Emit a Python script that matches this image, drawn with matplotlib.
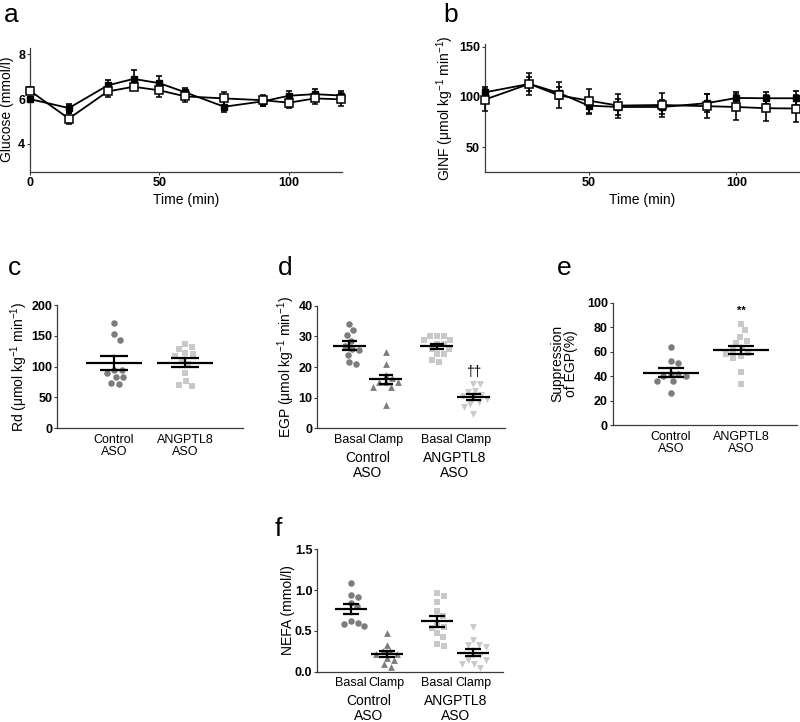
import numpy as np
import matplotlib
matplotlib.use('Agg')
import matplotlib.pyplot as plt
from matplotlib.transforms import blended_transform_factory

plt.rcParams['font.family'] = ['Liberation Sans', 'DejaVu Sans']
plt.rcParams['mathtext.fontset'] = 'custom'
plt.rcParams['mathtext.rm'] = 'Liberation Sans'
plt.rcParams['mathtext.it'] = 'Liberation Sans:italic'
plt.rcParams['mathtext.default'] = 'regular'

# ---------------- data ----------------
# panel a: plasma glucose during clamp
time_a = [0, 15, 30, 40, 50, 60, 75, 90, 100, 110, 120]
glucose_control = [6.0, 5.6, 6.61, 6.9, 6.71, 6.3, 5.66, 5.9, 6.15, 6.22, 6.16]
glucose_control_sem = [0.1, 0.2, 0.25, 0.4, 0.3, 0.2, 0.25, 0.2, 0.2, 0.25, 0.2]
glucose_angptl8 = [6.37, 5.13, 6.34, 6.55, 6.39, 6.12, 6.03, 5.95, 5.84, 6.03, 5.99]
glucose_angptl8_sem = [0.15, 0.25, 0.25, 0.15, 0.3, 0.25, 0.3, 0.25, 0.25, 0.25, 0.3]

# panel b: glucose infusion rate
time_b = [15, 30, 40, 50, 60, 75, 90, 100, 110, 120]
ginf_control = [104.6, 113, 104, 91.4, 90, 90, 93.8, 99, 98.7, 98.7]
ginf_control_sem = [5, 7, 6, 8, 8, 7, 9, 6, 6, 7]
ginf_angptl8 = [97.4, 113, 101.6, 96.4, 91.4, 92, 90.8, 90, 88.8, 88.5]
ginf_angptl8_sem = [11, 11, 13, 12, 12, 12, 12, 13, 13, 13]

# panel c: Rd
group_labels = ['Control\nASO', 'ANGPTL8\nASO']
rd_control = [170, 153, 144, 95, 95, 89, 83, 83, 72, 73]
rd_angptl8 = [137, 132, 129, 122, 120, 118, 111, 104, 89, 77, 71, 68]

# panel d: EGP
condition_labels = ['Basal', 'Clamp', 'Basal', 'Clamp']
egp_control_basal = [34, 32, 30.5, 28.5, 27, 26, 25.5, 24, 21.5, 21]
egp_control_clamp = [25, 21, 17.5, 16.5, 15, 15, 15, 13.5, 13.5, 7.5]
egp_angptl8_basal = [30.2, 30.2, 30.2, 28.8, 28.8, 27.5, 27.5, 25.9, 25.9, 24.2, 24.2, 22.4, 21.7]
egp_angptl8_clamp = [14.5, 14.5, 12.3, 12, 11, 10.5, 10, 9.5, 8.5, 8, 6.8, 4.7]

# panel e: suppression of EGP
supp_control = [64, 52, 51, 42, 42, 40, 40, 36, 36, 26]
supp_angptl8 = [82.5, 77.3, 72.3, 69, 67, 63, 61.4, 58.9, 58, 56.7, 54.5, 43, 33.7]

# panel f: NEFA
nefa_control_basal = [1.09, 0.94, 0.91, 0.84, 0.8, 0.62, 0.6, 0.58, 0.56]
nefa_control_clamp = [0.47, 0.33, 0.25, 0.25, 0.22, 0.22, 0.17, 0.14, 0.09, 0.06]
nefa_angptl8_basal = [0.97, 0.93, 0.85, 0.74, 0.68, 0.59, 0.55, 0.53, 0.47, 0.42, 0.34, 0.32]
nefa_angptl8_clamp = [0.55, 0.39, 0.33, 0.33, 0.3, 0.2, 0.2, 0.14, 0.14, 0.09, 0.09, 0.05]

# ---------------- style ----------------
DARK = '#7d7d7d'
LIGHT = '#c9c9c9'
SPINE = '#3a3a3a'
TICK_FS = 9
LABEL_FS = 10

fig = plt.figure(figsize=(8, 7.22), dpi=100)
W, H = 800.0, 722.0


def add_ax(left, right, top, bottom):
    return fig.add_axes([left / W, 1 - bottom / H, (right - left) / W, (bottom - top) / H])


def style(ax, fs=TICK_FS):
    for s in ['top', 'right']:
        ax.spines[s].set_visible(False)
    for s in ['left', 'bottom']:
        ax.spines[s].set_color(SPINE)
        ax.spines[s].set_linewidth(0.9)
    ax.tick_params(direction='out', length=2, width=0.8, color=SPINE, labelsize=fs, pad=1.5)
    for lab in ax.get_yticklabels():
        lab.set_fontweight('bold')


def swarm(ax, xc, vals, d_px):
    vals = np.asarray(vals, float)
    T = ax.transData
    xc_d = T.transform((xc, 0))[0]
    yd = T.transform(np.column_stack([np.full(len(vals), xc), vals]))[:, 1]
    cands = [0.0]
    for k in range(1, 200):
        cands += [k * 0.5, -k * 0.5]
    placed = []
    xd = np.zeros(len(vals))
    for i in np.argsort(-vals):
        for off in cands:
            if all((off - px) ** 2 + (yd[i] - py) ** 2 >= d_px ** 2 for px, py in placed):
                break
        placed.append((off, yd[i]))
        xd[i] = off
    return T.inverted().transform(np.column_stack([xc_d + xd, yd]))[:, 0]


def dots(ax, x, vals, marker, color, size, d_px, mean_hw, cap_hw):
    xs = swarm(ax, x, vals, d_px)
    ax.scatter(xs, vals, marker=marker, s=size, color=color, linewidths=0, zorder=2, clip_on=False)
    m = np.mean(vals)
    sem = np.std(vals, ddof=1) / np.sqrt(len(vals))
    ax.plot([x - mean_hw, x + mean_hw], [m, m], color='k', lw=1.6, zorder=3, solid_capstyle='butt')
    ax.plot([x, x], [m - sem, m + sem], color='k', lw=1.6, zorder=3)
    for yy in (m - sem, m + sem):
        ax.plot([x - cap_hw, x + cap_hw], [yy, yy], color='k', lw=1.6, zorder=3, solid_capstyle='butt')


def place_ylabel(ax, right_px, axis_left_px, axis_width_px):
    ax.yaxis.set_label_coords((right_px - axis_left_px) / axis_width_px, 0.5)


# ---------------- panel a ----------------
axa = add_ax(30, 342, 47.5, 172)
axa.set_xlim(0, 120.5)
axa.set_ylim(2.75, 8.3)
axa.errorbar(time_a, glucose_control, yerr=glucose_control_sem, color='k', lw=1.3,
             marker='s', ms=5, mfc='k', mec='k', capsize=2.5, capthick=1.2, elinewidth=1.2,
             clip_on=False, zorder=3)
axa.errorbar(time_a, glucose_angptl8, yerr=glucose_angptl8_sem, color='k', lw=1.3,
             marker='s', ms=5.5, mfc='white', mec='k', mew=1.1, capsize=2.5, capthick=1.2,
             elinewidth=1.2, clip_on=False, zorder=4)
axa.set_xticks([0, 50, 100])
axa.set_yticks([4, 6, 8])
axa.set_xlabel('Time (min)', fontsize=LABEL_FS, labelpad=3)
axa.set_ylabel('Glucose (mmol/l)', fontsize=LABEL_FS)
place_ylabel(axa, 14.5, 30, 312)
style(axa, 9)
for lab in axa.get_xticklabels():
    lab.set_fontweight('bold')

# ---------------- panel b ----------------
axb = add_ax(485, 800, 43.7, 172.3)
axb.set_xlim(15, 121.5)
axb.set_ylim(25, 153)
axb.errorbar(time_b, ginf_control, yerr=ginf_control_sem, color='k', lw=1.3,
             marker='s', ms=5, mfc='k', mec='k', capsize=2.5, capthick=1.2, elinewidth=1.2,
             clip_on=False, zorder=3)
axb.errorbar(time_b, ginf_angptl8, yerr=ginf_angptl8_sem, color='k', lw=1.3,
             marker='s', ms=5.5, mfc='white', mec='k', mew=1.1, capsize=2.5, capthick=1.2,
             elinewidth=1.2, clip_on=False, zorder=4)
axb.set_xticks([50, 100])
axb.set_yticks([50, 100, 150])
axb.set_xlabel('Time (min)', fontsize=LABEL_FS, labelpad=3)
axb.set_ylabel('GINF (μmol kg$^{-1}$ min$^{-1}$)', fontsize=LABEL_FS)
place_ylabel(axb, 456, 485, 315)
style(axb, 9)
for lab in axb.get_xticklabels():
    lab.set_fontweight('bold')

# ---------------- panel c ----------------
axc = add_ax(57.3, 243, 305, 428.3)
axc.set_xlim(-0.8, 1.82)
axc.set_ylim(0, 200)
axc.set_yticks([0, 50, 100, 150, 200])
dots(axc, 0, rd_control, 'o', DARK, 22, 7.5, 0.4, 0.2)
dots(axc, 1, rd_angptl8, 's', LIGHT, 22, 7.5, 0.4, 0.2)
axc.set_xticks([0, 1])
axc.set_xticklabels(group_labels, fontsize=LABEL_FS, linespacing=1.0)
axc.set_ylabel('Rd (μmol kg$^{-1}$ min$^{-1}$)', fontsize=LABEL_FS)
place_ylabel(axc, 30, 57.3, 185.7)
style(axc)
axc.tick_params(axis='x', length=0, pad=4)

# ---------------- panel d ----------------
pos4 = [0, 1, 2.4, 3.4]
axd = add_ax(317.3, 505, 305.7, 428.3)
axd.set_xlim(-0.88, 4.27)
axd.set_ylim(0, 40)
axd.set_yticks([0, 10, 20, 30, 40])
dots(axd, pos4[0], egp_control_basal, 'o', DARK, 22, 7, 0.45, 0.2)
dots(axd, pos4[1], egp_control_clamp, '^', DARK, 24, 7, 0.45, 0.2)
dots(axd, pos4[2], egp_angptl8_basal, 's', LIGHT, 22, 7, 0.45, 0.2)
dots(axd, pos4[3], egp_angptl8_clamp, 'v', LIGHT, 24, 7, 0.45, 0.2)
axd.text(pos4[3], 18.5, '††', ha='center', va='center', fontsize=10)
axd.set_xticks(pos4)
axd.set_xticklabels(condition_labels, fontsize=7.5)
axd.set_ylabel('EGP (μmol kg$^{-1}$ min$^{-1}$)', fontsize=LABEL_FS)
place_ylabel(axd, 297, 317.3, 187.7)
style(axd)
axd.tick_params(axis='x', length=0, pad=4)
trd = blended_transform_factory(axd.transData, axd.transAxes)
axd.text((pos4[0] + pos4[1]) / 2, -0.185, group_labels[0], transform=trd, ha='center', va='top',
         fontsize=LABEL_FS, linespacing=1.1)
axd.text((pos4[2] + pos4[3]) / 2, -0.185, group_labels[1], transform=trd, ha='center', va='top',
         fontsize=LABEL_FS, linespacing=1.1)

# ---------------- panel e ----------------
axe = add_ax(612.7, 797, 302.7, 425)
axe.set_xlim(-0.83, 1.8)
axe.set_ylim(0, 100)
axe.set_yticks([0, 20, 40, 60, 80, 100])
dots(axe, 0, supp_control, 'o', DARK, 22, 7.5, 0.4, 0.19)
dots(axe, 1, supp_angptl8, 's', LIGHT, 22, 7.5, 0.4, 0.19)
axe.text(1, 93, '**', ha='center', va='center', fontsize=8, fontweight='bold')
axe.set_xticks([0, 1])
axe.set_xticklabels(group_labels, fontsize=LABEL_FS, linespacing=1.0)
axe.set_ylabel('Suppression\nof EGP(%)', fontsize=LABEL_FS, linespacing=1.0)
place_ylabel(axe, 578, 612.7, 184.3)
style(axe)
axe.tick_params(axis='x', length=0, pad=4)

# ---------------- panel f ----------------
axf = add_ax(317.3, 502.7, 549.3, 671.7)
axf.set_xlim(-0.93, 4.22)
axf.set_ylim(0, 1.5)
axf.set_yticks([0.0, 0.5, 1.0, 1.5])
axf.set_yticklabels(['0.0', '0.5', '1.0', '1.5'])
dots(axf, pos4[0], nefa_control_basal, 'o', DARK, 22, 7, 0.45, 0.22)
dots(axf, pos4[1], nefa_control_clamp, '^', DARK, 24, 7, 0.45, 0.22)
dots(axf, pos4[2], nefa_angptl8_basal, 's', LIGHT, 22, 7, 0.45, 0.22)
dots(axf, pos4[3], nefa_angptl8_clamp, 'v', LIGHT, 24, 7, 0.45, 0.22)
axf.set_xticks(pos4)
axf.set_xticklabels(condition_labels, fontsize=7.5)
axf.set_ylabel('NEFA (mmol/l)', fontsize=LABEL_FS)
place_ylabel(axf, 295, 317.3, 185.4)
style(axf)
axf.tick_params(axis='x', length=0, pad=4)
trf = blended_transform_factory(axf.transData, axf.transAxes)
axf.text((pos4[0] + pos4[1]) / 2, -0.185, group_labels[0], transform=trf, ha='center', va='top',
         fontsize=LABEL_FS, linespacing=1.1)
axf.text((pos4[2] + pos4[3]) / 2, -0.185, group_labels[1], transform=trf, ha='center', va='top',
         fontsize=LABEL_FS, linespacing=1.1)

# ---------------- panel letters ----------------
for letter, x, y in [('a', 4, 22), ('b', 443, 22), ('c', 8, 275), ('d', 278, 275),
                     ('e', 557, 275), ('f', 275, 536)]:
    fig.text(x / W, 1 - y / H, letter, fontsize=19, ha='left', va='baseline')

fig.savefig('out.png', dpi=100)
